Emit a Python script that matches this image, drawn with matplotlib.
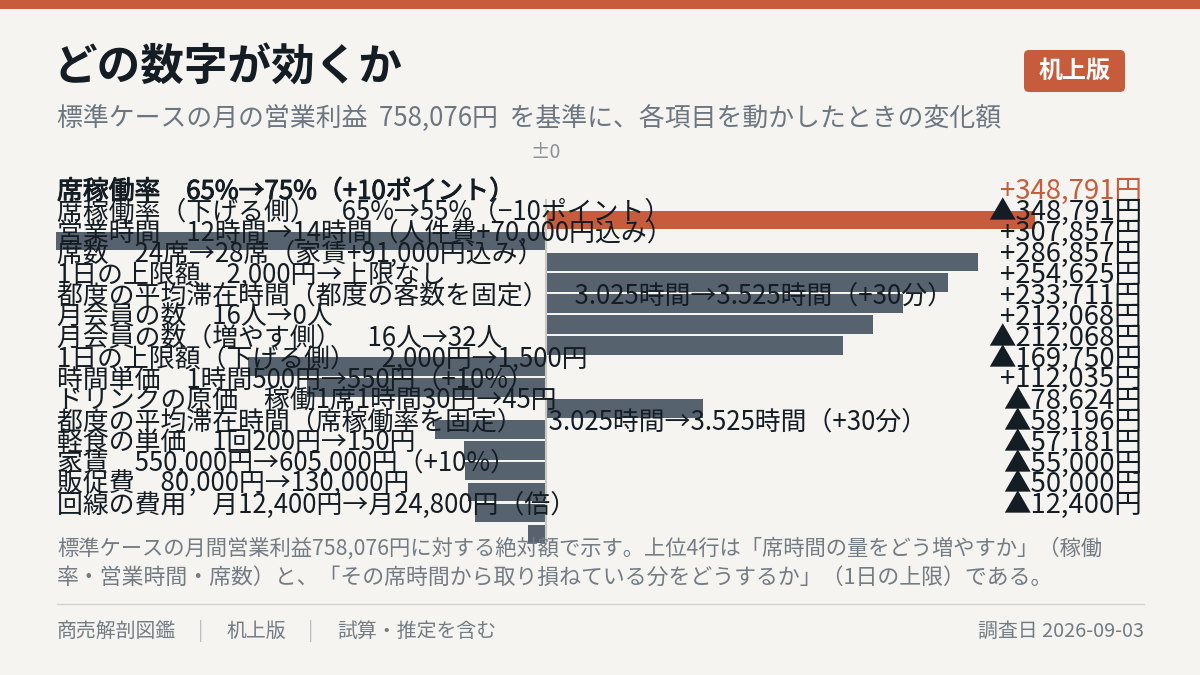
import matplotlib
matplotlib.use('Agg')
import matplotlib.pyplot as plt
from matplotlib import font_manager as fm
from matplotlib.patches import Rectangle, FancyBboxPatch
from matplotlib.lines import Line2D
import matplotlib.transforms as mtransforms
import matplotlib.patheffects as pe

# ---------------- data ----------------
labels = [
    "席稼働率　65%→75%（+10ポイント）",
    "席稼働率（下げる側）　65%→55%（−10ポイント）",
    "営業時間　12時間→14時間（人件費+70,000円込み）",
    "席数　24席→28席（家賃+91,000円込み）",
    "1日の上限額　2,000円→上限なし",
    "都度の平均滞在時間（都度の客数を固定）　3.025時間→3.525時間（+30分）",
    "月会員の数　16人→0人",
    "月会員の数（増やす側）　16人→32人",
    "1日の上限額（下げる側）　2,000円→1,500円",
    "時間単価　1時間500円→550円（+10%）",
    "ドリンクの原価　稼働1席1時間30円→45円",
    "都度の平均滞在時間（席稼働率を固定）　3.025時間→3.525時間（+30分）",
    "軽食の単価　1回200円→150円",
    "家賃　550,000円→605,000円（+10%）",
    "販促費　80,000円→130,000円",
    "回線の費用　月12,400円→月24,800円（倍）",
]
values = [348791, -348791, 307857, 286857, 254625, 233711, 212068, -212068,
          -169750, 112035, -78624, -58196, -57181, -55000, -50000, -12400]
highlight_index = 0

title = "どの数字が効くか"
subtitle = "標準ケースの月の営業利益  758,076円  を基準に、各項目を動かしたときの変化額"
badge = "机上版"
zero_label = "±0"
note_lines = [
    "標準ケースの月間営業利益758,076円に対する絶対額で示す。上位4行は「席時間の量をどう増やすか」（稼働",
    "率・営業時間・席数）と、「その席時間から取り損ねている分をどうするか」（1日の上限）である。",
]
footer_items = ["商売解剖図鑑", "机上版", "試算・推定を含む"]
date_label = "調査日 2026-09-03"

# ---------------- style ----------------
names = {f.name for f in fm.fontManager.ttflist}
JP = next((n for n in ['Noto Sans Mono CJK JP', 'Noto Sans CJK JP', 'Noto Sans CJK SC']
           if n in names), 'DejaVu Sans')
FAM = [JP, 'DejaVu Sans']
plt.rcParams['font.family'] = FAM

W, H, DPI = 1200, 675, 100
BG = '#f5f4f0'
ORANGE = '#c75c3c'
DARK = '#141c24'
BAR = '#56636f'
GRAY = '#6c7681'
LIGHT = '#737c85'
note_sizes = [15.35, 15.75]

fig = plt.figure(figsize=(W / DPI, H / DPI), dpi=DPI, facecolor=BG)


def fx(px):
    return px / W


def fy(py):
    return 1 - py / H


# top band
fig.add_artist(Rectangle((0, fy(9)), 1, 9 / H, transform=fig.transFigure,
                         facecolor=ORANGE, edgecolor='none', zorder=0))

# title / subtitle
fig.text(fx(54), fy(68), title, fontsize=31.4, fontweight='bold', color=DARK,
         ha='left', va='center')
fig.text(fx(57), fy(119), subtitle, fontsize=18.6, color=GRAY, ha='left', va='center')

# badge
fig.add_artist(FancyBboxPatch((10.24, (H - 92) / DPI), 1.01, 0.42,
                              boxstyle='round,pad=0,rounding_size=0.05',
                              transform=fig.dpi_scale_trans,
                              facecolor=ORANGE, edgecolor='none'))
fig.text(fx(1074.5), fy(71), badge, fontsize=17.3, fontweight='bold', color='white',
         ha='center', va='center')

# ---------------- bars ----------------
n = len(values)
pitch = 20.93
top = 209.5
ax_h = n * pitch
left_px, zero_px, right_px = 56, 545.5, 1143
ax = fig.add_axes([fx(left_px), fy(top + ax_h), (right_px - left_px) / W, ax_h / H])
ax.set_facecolor('none')
vmax = max(abs(v) for v in values)
ax.set_xlim(-vmax, vmax * (right_px - zero_px) / (zero_px - left_px))
ax.set_ylim(n - 0.5, -0.5)
ax.axis('off')
colors = [ORANGE if i == highlight_index else BAR for i in range(n)]
ax.barh(range(n), values, height=0.89, color=colors, zorder=2)
ax.axvline(0, ymin=0, ymax=1 + (top - 200) / ax_h, color='#c9c9c3', lw=1.5,
           zorder=3, clip_on=False)

fig.text(fx(546), fy(153), zero_label, fontsize=14, color='#8a9198',
         ha='center', va='center')

off = -28.5 / pitch
tr = mtransforms.blended_transform_factory(fig.transFigure, ax.transData)
semibold = [pe.withStroke(linewidth=0.7, foreground=DARK)]
for i, (lab, v) in enumerate(zip(labels, values)):
    hl = i == highlight_index
    ax.text(fx(57), i + off, lab, transform=tr, ha='left', va='center',
            fontsize=18.6, color=DARK, zorder=4, clip_on=False,
            path_effects=semibold if hl else None)
    vs = ('+' if v > 0 else '▲') + f"{abs(v):,}円"
    ax.text(fx(1142), i + off, vs, transform=tr, ha='right', va='center',
            fontsize=19.8, color=ORANGE if hl else DARK, zorder=4, clip_on=False)

# ---------------- notes / footer ----------------
for k, line in enumerate(note_lines):
    fig.text(fx(57), fy(549 + 29 * k), line, fontsize=note_sizes[k], color=LIGHT,
             ha='left', va='center')

fig.add_artist(Line2D([fx(57), fx(1144)], [fy(603.5), fy(603.5)],
                      color='#d3d3cf', lw=1, transform=fig.transFigure))

fx_items = [57, 226, 337]
sep_x = [201, 311]
for x, t in zip(fx_items, footer_items):
    fig.text(fx(x), fy(631), t, fontsize=14.3, color=LIGHT, ha='left', va='center')
for x in sep_x:
    fig.text(fx(x), fy(631), '|', fontsize=14.3, color='#b9bdc1', ha='center', va='center')
fig.text(fx(1144), fy(631), date_label, fontsize=14.3, color=LIGHT, ha='right', va='center')

fig.savefig('out.png', dpi=DPI, facecolor=BG)
